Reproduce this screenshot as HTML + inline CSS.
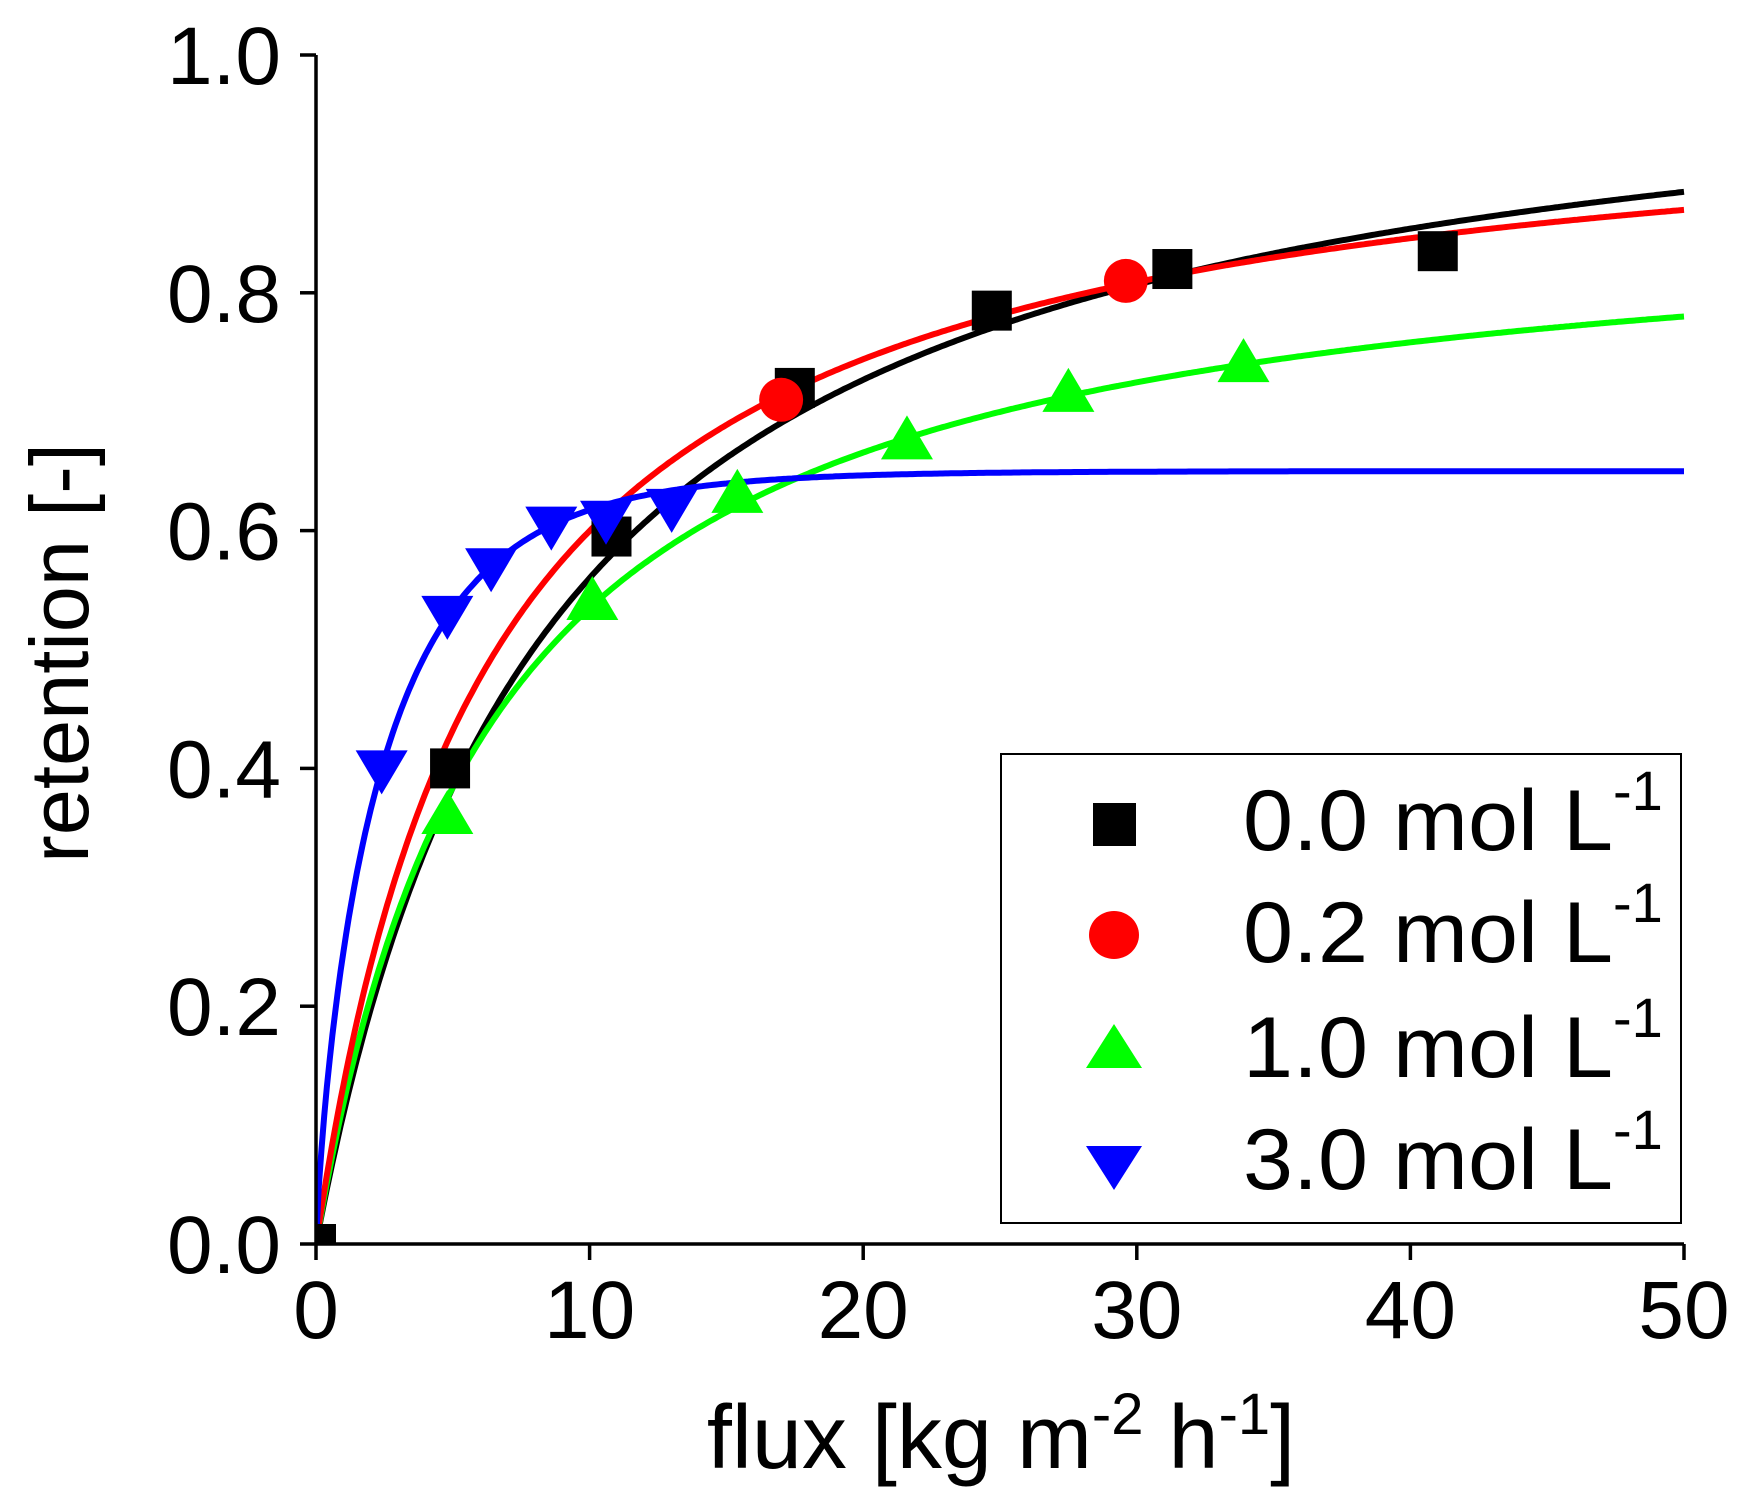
<!DOCTYPE html>
<html><head><meta charset="utf-8"><style>
html,body{margin:0;padding:0;background:#fff}
svg{display:block}
text{font-family:"Liberation Sans",Arial,sans-serif;fill:#000}
</style></head><body>
<svg id="s" width="1750" height="1504" viewBox="0 0 1750 1504" xmlns="http://www.w3.org/2000/svg">
<defs><clipPath id="cp"><rect x="316" y="0" width="1434" height="1244"/></clipPath></defs>
<rect width="1750" height="1504" fill="#fff"/>
<g id="curves" fill="none" stroke-width="6" clip-path="url(#cp)"></g>
<g id="marks" clip-path="url(#cp)"></g>
<g stroke="#000" stroke-width="3.5" fill="none">
<line x1="316" y1="55" x2="316" y2="1244"/>
<line x1="316" y1="1244" x2="1684" y2="1244"/>
</g>
<g id="ticks" stroke="#000" stroke-width="3.5"></g>
<g id="labels" font-size="82"></g>
<text x="1001" y="1468" font-size="90" text-anchor="middle">flux [kg m<tspan dy="-34" font-size="58">-2</tspan><tspan dy="34"> h</tspan><tspan dy="-34" font-size="58">-1</tspan><tspan dy="34">]</tspan></text>
<text transform="translate(88,653) rotate(-90)" font-size="83" text-anchor="middle">retention [-]</text>
<rect x="1001" y="754" width="680" height="469" fill="#fff" stroke="#000" stroke-width="2"/>
<g font-size="86">
<rect x="1093" y="803" width="43" height="43" fill="#000"/>
<text x="1243" y="850"><tspan textLength="370" lengthAdjust="spacingAndGlyphs">0.0 mol L</tspan><tspan dy="-40" font-size="56">-1</tspan></text>
<ellipse cx="1114" cy="935" rx="25" ry="24" fill="#f00"/>
<text x="1243" y="962"><tspan textLength="370" lengthAdjust="spacingAndGlyphs">0.2 mol L</tspan><tspan dy="-40" font-size="56">-1</tspan></text>
<polygon points="1114,1024 1142,1068 1086,1068" fill="#0f0"/>
<text x="1243" y="1077"><tspan textLength="370" lengthAdjust="spacingAndGlyphs">1.0 mol L</tspan><tspan dy="-40" font-size="56">-1</tspan></text>
<polygon points="1114,1190 1142,1146 1086,1146" fill="#00f"/>
<text x="1243" y="1189"><tspan textLength="370" lengthAdjust="spacingAndGlyphs">3.0 mol L</tspan><tspan dy="-40" font-size="56">-1</tspan></text>
</g>
</svg>
<script>
var NS="http://www.w3.org/2000/svg";
function X(v){return 316+v*27.36}
function Y(v){return 1244-v*1189}
function el(n,a,p){var e=document.createElementNS(NS,n);for(var k in a)e.setAttribute(k,a[k]);document.getElementById(p).appendChild(e);return e}
for(var i=0;i<=5;i++){var x=X(i*10);el('line',{x1:x,y1:1244,x2:x,y2:1260},'ticks');var t=el('text',{x:x,y:1338,'text-anchor':'middle'},'labels');t.textContent=String(i*10);}
for(var i=0;i<=5;i++){var y=Y(i*0.2);el('line',{x1:300,y1:y,x2:316,y2:y},'ticks');var t=el('text',{x:281,y:y+29,'text-anchor':'end'},'labels');t.textContent=(i*0.2).toFixed(1);}
var fns=[
 ['#000',function(J){return 1.035*J/(J+8.48)}],
 ['#0f0',function(J){return 0.881*J/(J+6.47)}],
 ['#f00',function(J){return 0.980*J/(J+6.34)}],
 ['#00f',function(J){return 0.65*(1-Math.exp(-Math.pow(J/2.54,0.8)))}]
];
fns.forEach(function(f){var d='';for(var J=0;J<=50.001;J+=0.1){d+=(J==0?'M':'L')+X(J).toFixed(1)+','+Y(f[1](J)).toFixed(1)}el('path',{d:d,stroke:f[0]},'curves');});
function sq(x,y){el('rect',{x:X(x)-20,y:Y(y)-20,width:40,height:40,fill:'#000'},'marks')}
function ci(x,y){el('circle',{cx:X(x),cy:Y(y),r:22,fill:'#f00'},'marks')}
function tu(x,y){var a=X(x),b=Y(y);el('polygon',{points:a+','+(b-26)+' '+(a+26)+','+(b+18)+' '+(a-26)+','+(b+18),fill:'#0f0'},'marks')}
function td(x,y){var a=X(x),b=Y(y);el('polygon',{points:a+','+(b+26)+' '+(a+26)+','+(b-18)+' '+(a-26)+','+(b-18),fill:'#00f'},'marks')}
el('rect',{x:316,y:1224,width:20,height:20,fill:'#000'},'marks');
[[4.9,0.40],[10.8,0.595],[17.5,0.72],[24.7,0.785],[31.3,0.82],[41,0.835]].forEach(function(p){sq(p[0],p[1])});
[[4.8,0.36],[10.1,0.54],[15.4,0.63],[21.6,0.675],[27.5,0.715],[33.9,0.74]].forEach(function(p){tu(p[0],p[1])});
[[17,0.71],[29.6,0.81]].forEach(function(p){ci(p[0],p[1])});
[[2.4,0.40],[4.8,0.53],[6.4,0.57],[8.6,0.605],[10.6,0.61],[13,0.62]].forEach(function(p){td(p[0],p[1])});
</script>
</body></html>
